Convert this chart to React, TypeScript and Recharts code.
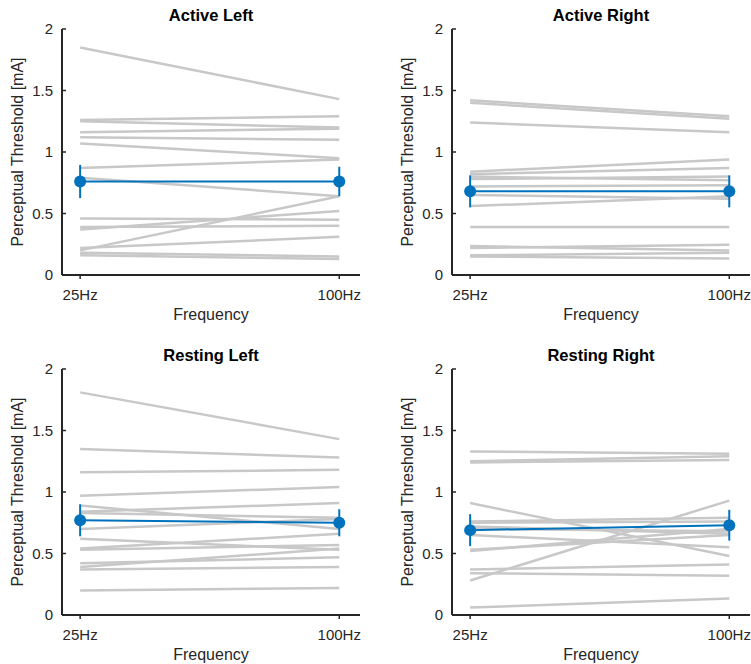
import { FC } from "react";
import { LineChart, Line, XAxis, YAxis, ErrorBar } from "recharts";

// x positions of the two conditions and their tick labels
const FREQS = [1, 2];
const FREQ_LABELS = ["25Hz", "100Hz"];
const Y_TICKS = [0, 0.5, 1, 1.5, 2];

// per-subject thresholds [mA], 25Hz and 100Hz
const activeLeft25 = [1.85, 1.26, 1.25, 1.16, 1.12, 1.07, 0.87, 0.79, 0.46, 0.39, 0.37, 0.22, 0.2, 0.18, 0.16];
const activeLeft100 = [1.43, 1.29, 1.2, 1.19, 1.1, 0.95, 0.94, 0.64, 0.45, 0.4, 0.52, 0.31, 0.64, 0.15, 0.13];
const activeLeftMean = [0.76, 0.76];
const activeLeftErr = [0.135, 0.12];

const activeRight25 = [1.42, 1.4, 1.24, 0.84, 0.82, 0.8, 0.78, 0.72, 0.65, 0.56, 0.39, 0.235, 0.22, 0.16, 0.15];
const activeRight100 = [1.29, 1.27, 1.16, 0.94, 0.87, 0.77, 0.8, 0.73, 0.62, 0.64, 0.39, 0.2, 0.245, 0.18, 0.135];
const activeRightMean = [0.68, 0.68];
const activeRightErr = [0.13, 0.13];

const restingLeft25 = [1.81, 1.35, 1.16, 0.97, 0.89, 0.84, 0.83, 0.7, 0.62, 0.54, 0.53, 0.42, 0.39, 0.37, 0.2];
const restingLeft100 = [1.43, 1.28, 1.18, 1.04, 0.7, 0.91, 0.79, 0.78, 0.53, 0.66, 0.57, 0.47, 0.54, 0.39, 0.22];
const restingLeftMean = [0.77, 0.75];
const restingLeftErr = [0.13, 0.11];

const restingRight25 = [1.33, 1.25, 1.24, 0.91, 0.76, 0.75, 0.72, 0.7, 0.65, 0.53, 0.52, 0.37, 0.34, 0.28, 0.06];
const restingRight100 = [1.31, 1.29, 1.26, 0.48, 0.79, 0.76, 0.66, 0.68, 0.55, 0.65, 0.7, 0.41, 0.32, 0.93, 0.135];
const restingRightMean = [0.69, 0.73];
const restingRightErr = [0.13, 0.125];

const FONT = "'Liberation Sans', Arial, sans-serif";
const AXIS = "#262626";
const GREY = "#c8c8c8";
const BLUE = "#0072BD";

type PanelProps = {
  title: string;
  at25: number[];
  at100: number[];
  mean: number[];
  err: number[];
  plotLeft: number;
  plotTop: number;
};

const PLOT_W = 298;
const PLOT_H = 246;
const Y_AXIS_W = 50;

const Panel: FC<PanelProps> = ({ title, at25, at100, mean, err, plotLeft, plotTop }) => {
  const data = FREQS.map((f, j) => {
    const row: Record<string, number> = { x: f, mean: mean[j], err: err[j] };
    at25.forEach((_, i) => {
      row["s" + i] = j === 0 ? at25[i] : at100[i];
    });
    return row;
  });
  const cx = plotLeft + PLOT_W / 2;
  const text = { position: "absolute" as const, whiteSpace: "nowrap" as const, fontFamily: FONT };

  return (
    <>
      <div
        style={{
          ...text,
          left: cx,
          top: plotTop - 14,
          transform: "translate(-50%, -50%)",
          fontSize: 16.5,
          fontWeight: "bold",
          color: "#000",
        }}
      >
        {title}
      </div>
      <div
        style={{
          ...text,
          left: plotLeft - 44,
          top: plotTop + PLOT_H / 2,
          transform: "translate(-50%, -50%) rotate(-90deg)",
          fontSize: 16,
          color: AXIS,
        }}
      >
        Perceptual Threshold [mA]
      </div>
      <div
        style={{
          ...text,
          left: cx,
          top: plotTop + PLOT_H + 40,
          transform: "translate(-50%, -50%)",
          fontSize: 16,
          color: AXIS,
        }}
      >
        Frequency
      </div>
      <div style={{ position: "absolute", left: plotLeft - Y_AXIS_W, top: plotTop - 10 }}>
        <LineChart
          width={Y_AXIS_W + PLOT_W + 4}
          height={PLOT_H + 40}
          data={data}
          margin={{ top: 10, right: 4, left: 0, bottom: 0 }}
        >
          <XAxis
            dataKey="x"
            type="number"
            domain={[0.93, 2.08]}
            ticks={FREQS}
            tickFormatter={(v) => FREQ_LABELS[FREQS.indexOf(v)]}
            height={30}
            tickSize={4}
            tickMargin={10}
            axisLine={{ stroke: AXIS, strokeWidth: 2 }}
            tickLine={{ stroke: AXIS, strokeWidth: 1.5 }}
            tick={{ fill: AXIS, fontSize: 15, fontFamily: FONT }}
            allowDataOverflow
          />
          <YAxis
            type="number"
            domain={[0, 2]}
            ticks={Y_TICKS}
            width={Y_AXIS_W}
            tickSize={-4}
            tickMargin={13}
            axisLine={{ stroke: AXIS, strokeWidth: 2 }}
            tickLine={{ stroke: AXIS, strokeWidth: 1.5 }}
            tick={{ fill: AXIS, fontSize: 15, fontFamily: FONT }}
          />
          {at25.map((_, i) => (
            <Line
              key={i}
              dataKey={"s" + i}
              stroke={GREY}
              strokeWidth={2.5}
              dot={false}
              isAnimationActive={false}
            />
          ))}
          <Line
            dataKey="mean"
            stroke={BLUE}
            strokeWidth={2}
            dot={{ r: 6, fill: BLUE, stroke: BLUE, strokeWidth: 0 }}
            isAnimationActive={false}
          >
            <ErrorBar dataKey="err" direction="y" width={0} stroke={BLUE} strokeWidth={2} />
          </Line>
        </LineChart>
      </div>
    </>
  );
};

const App: FC = () => {
  return (
    <div
      style={{
        position: "absolute",
        left: 0,
        top: 0,
        width: 751,
        height: 664,
        background: "#fff",
        overflow: "hidden",
      }}
    >
      <Panel title="Active Left" at25={activeLeft25} at100={activeLeft100} mean={activeLeftMean} err={activeLeftErr} plotLeft={62} plotTop={29} />
      <Panel title="Active Right" at25={activeRight25} at100={activeRight100} mean={activeRightMean} err={activeRightErr} plotLeft={452} plotTop={29} />
      <Panel title="Resting Left" at25={restingLeft25} at100={restingLeft100} mean={restingLeftMean} err={restingLeftErr} plotLeft={62} plotTop={369} />
      <Panel title="Resting Right" at25={restingRight25} at100={restingRight100} mean={restingRightMean} err={restingRightErr} plotLeft={452} plotTop={369} />
    </div>
  );
};

export default App;
